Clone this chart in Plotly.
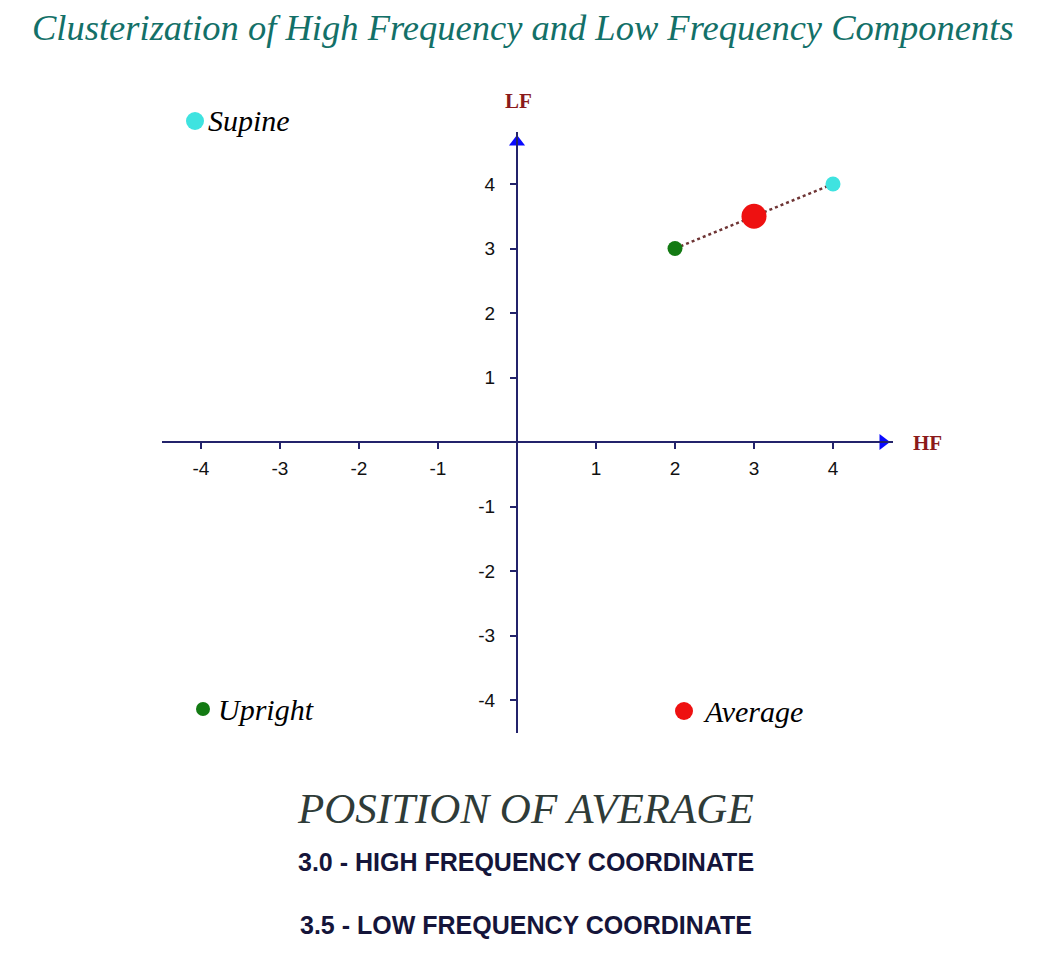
import plotly.graph_objects as go

# ---- data ----
positions = ["Upright", "Supine", "Average"]
hf_values = [2.0, 4.0, 3.0]
lf_values = [3.0, 4.0, 3.5]
point_colors = ["#137a13", "#3fe3e0", "#ee1111"]
point_sizes = [15, 15, 25]
tick_values = [-4, -3, -2, -1, 1, 2, 3, 4]
tick_labels = ["-4", "-3", "-2", "-1", "1", "2", "3", "4"]
avg_hf_text = "3.0 - HIGH FREQUENCY COORDINATE"
avg_lf_text = "3.5 - LOW FREQUENCY COORDINATE"

# page is 1039x975; the html body adds an 8px margin around the figure
PAGE_W, PAGE_H = 1039, 975
OFF = 8
W, H = PAGE_W - 2 * OFF, PAGE_H - 2 * OFF


def px(xp):  # page x pixel -> paper fraction
    return (xp - OFF) / W


def py(yp):  # page y pixel -> paper fraction
    return 1 - (yp - OFF) / H


UX, UY = 79.0, 64.5          # pixels per data unit
X0, Y0 = 517, 442            # page pixel of the origin
x_left_px, x_right_px = 162, 893
y_bot_px, y_top_px = 733, 132
x_range = [(x_left_px - X0) / UX, (x_right_px - X0) / UX]
y_range = [(Y0 - y_bot_px) / UY, (Y0 - y_top_px) / UY]
x_dom = [px(x_left_px), px(x_right_px)]
y_dom = [py(y_bot_px), py(y_top_px)]

axis_col = "#23236b"
serif = "Liberation Serif, Times New Roman, serif"
sans = "Liberation Sans, Arial, sans-serif"

fig = go.Figure()

# connecting line Upright -> Supine
fig.add_trace(go.Scatter(
    x=[hf_values[0], hf_values[1]], y=[lf_values[0], lf_values[1]],
    mode="lines", line=dict(color="#6e3434", width=2.5, dash="dot"),
    showlegend=False, hoverinfo="skip"))

for name, hx, ly, c, s in zip(positions, hf_values, lf_values, point_colors, point_sizes):
    fig.add_trace(go.Scatter(
        x=[hx], y=[ly], mode="markers", name=name,
        marker=dict(color=c, size=s, line=dict(width=0)),
        showlegend=False, hoverinfo="skip"))

# arrow heads at the ends of the axes
fig.add_trace(go.Scatter(
    x=[x_range[1] - 10 / UX], y=[0], mode="markers",
    marker=dict(symbol="triangle-right", size=14, color="#0a0aff"),
    showlegend=False, hoverinfo="skip", cliponaxis=False))
fig.add_trace(go.Scatter(
    x=[0], y=[y_range[1] - 10 / UY], mode="markers",
    marker=dict(symbol="triangle-up", size=14, color="#0a0aff"),
    showlegend=False, hoverinfo="skip", cliponaxis=False))

fig.update_layout(
    width=W, height=H,
    margin=dict(l=0, r=0, t=0, b=0, autoexpand=False),
    paper_bgcolor="white", plot_bgcolor="white",
    showlegend=False,
    xaxis=dict(range=x_range, domain=x_dom, anchor="free",
               position=py(Y0), showgrid=False, zeroline=False,
               showline=True, linecolor=axis_col, linewidth=2,
               ticks="outside", ticklen=6, tickwidth=2, tickcolor=axis_col,
               tickvals=tick_values, ticktext=tick_labels,
               ticklabelstandoff=3,
               tickfont=dict(family=sans, size=19, color="#111111")),
    yaxis=dict(range=y_range, domain=y_dom, anchor="free",
               position=px(X0), showgrid=False, zeroline=False,
               showline=True, linecolor=axis_col, linewidth=2,
               ticks="outside", ticklen=6, tickwidth=2, tickcolor=axis_col,
               tickvals=tick_values, ticktext=tick_labels,
               ticklabelstandoff=11,
               tickfont=dict(family=sans, size=19, color="#111111")),
)

# legend keys placed in the corners (marker centre page pixel, text start, size)
key_layout = {
    "Supine": (195, 121, 206, 18),
    "Upright": (203, 709, 216, 14),
    "Average": (684, 711, 701, 18),
}
shapes = []
annotations = []
for name, c in zip(positions, point_colors):
    cx, cy, tx, d = key_layout[name]
    r = d / 2
    shapes.append(dict(type="circle", xref="paper", yref="paper",
                       x0=px(cx - r), x1=px(cx + r), y0=py(cy + r), y1=py(cy - r),
                       fillcolor=c, line=dict(width=0)))
    annotations.append(dict(text="<i>" + name + "</i>", x=px(tx), y=py(cy),
                            xanchor="left", yanchor="middle",
                            font=dict(family=serif, size=30, color="#000000")))

annotations += [
    dict(text="<i>Clusterization of High Frequency and Low Frequency Components</i>",
         x=px(523), y=py(28), xanchor="center", yanchor="middle",
         font=dict(family=serif, size=36.5, color="#137068")),
    dict(text="<b>LF</b>", x=px(518), y=py(101), xanchor="center", yanchor="middle",
         font=dict(family=serif, size=21, color="#8b1a1a")),
    dict(text="<b>HF</b>", x=px(927), y=py(443), xanchor="center", yanchor="middle",
         font=dict(family=serif, size=21, color="#8b1a1a")),
    dict(text="<i>POSITION OF AVERAGE</i>", x=px(525), y=py(808),
         xanchor="center", yanchor="middle",
         font=dict(family=serif, size=43, color="#2f3b38")),
    dict(text="<b>" + avg_hf_text + "</b>", x=px(526), y=py(862),
         xanchor="center", yanchor="middle",
         font=dict(family=sans, size=25, color="#15153a")),
    dict(text="<b>" + avg_lf_text + "</b>", x=px(526), y=py(925),
         xanchor="center", yanchor="middle",
         font=dict(family=sans, size=25, color="#15153a")),
]
for a in annotations:
    a.update(showarrow=False, xref="paper", yref="paper")
fig.update_layout(annotations=annotations, shapes=shapes)

fig.write_html("out.html")
